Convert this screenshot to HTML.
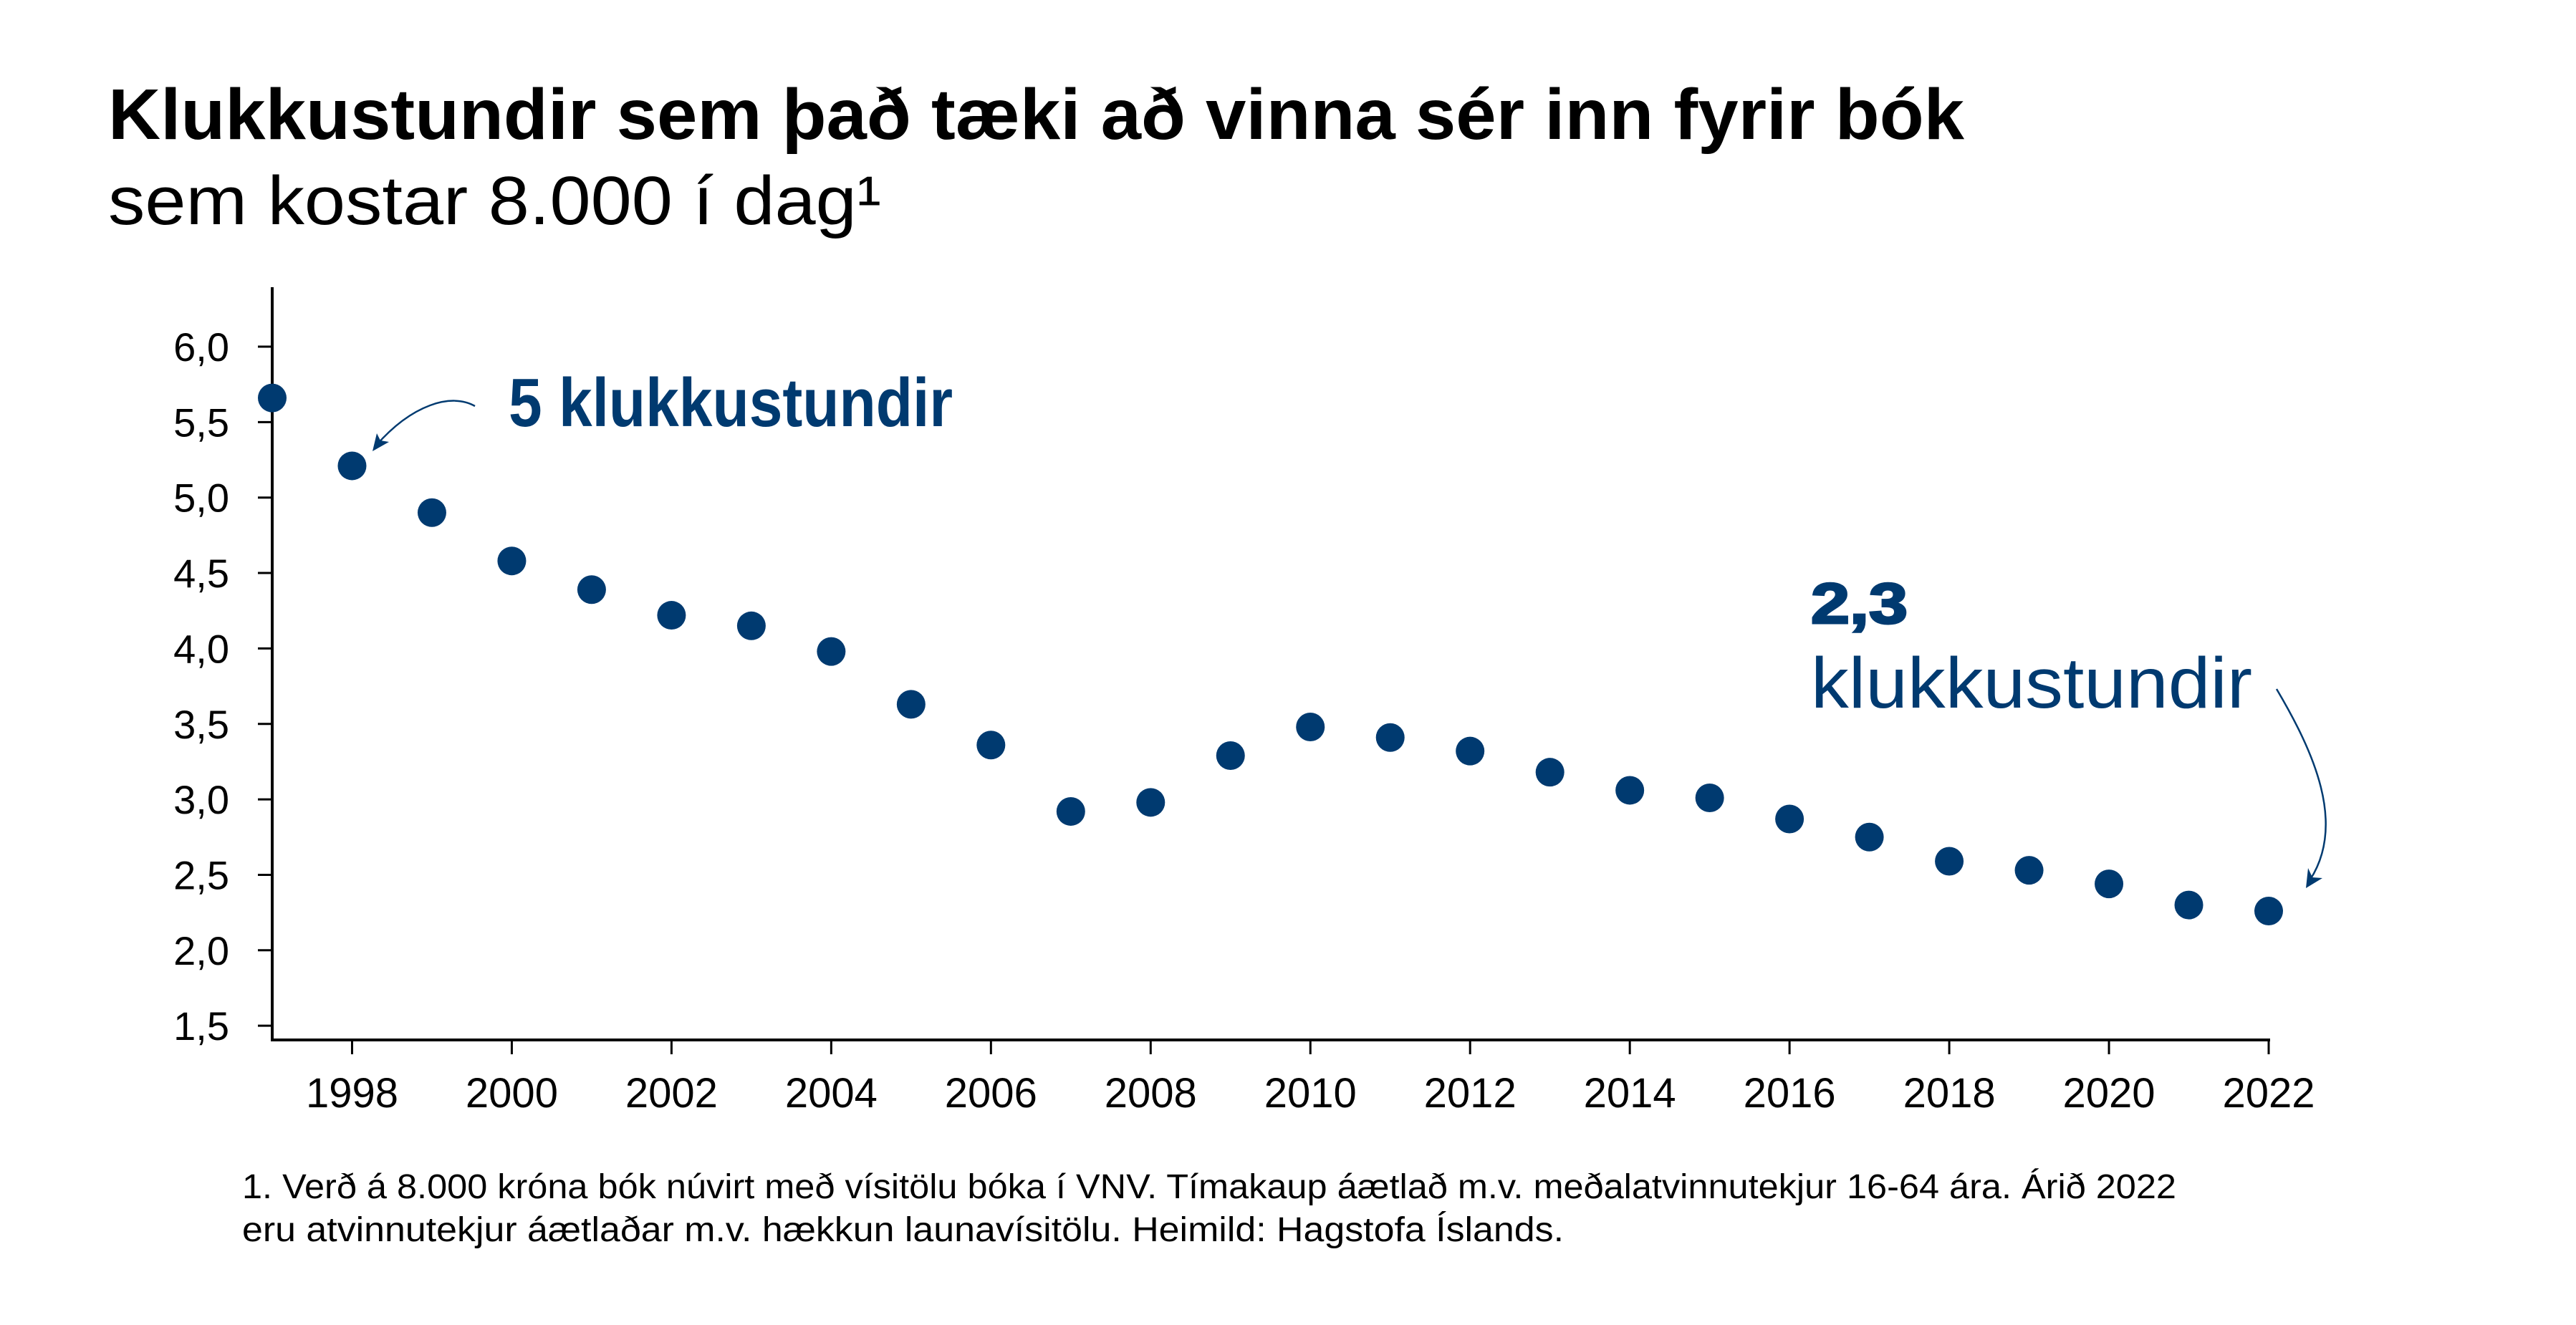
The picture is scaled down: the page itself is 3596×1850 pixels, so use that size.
<!DOCTYPE html>
<html><head><meta charset="utf-8"><style>
html,body{margin:0;padding:0;background:#fff;}
svg{display:block;font-family:"Liberation Sans",sans-serif;}
</style></head><body>
<svg id="chart" width="3596" height="1850" viewBox="0 0 3596 1850" xmlns="http://www.w3.org/2000/svg">
<rect width="3596" height="1850" fill="#fff"/>
<text x="151" y="194" font-size="100" font-weight="bold" fill="#000" textLength="2591" lengthAdjust="spacingAndGlyphs">Klukkustundir sem það tæki að vinna sér inn fyrir bók</text>
<text x="151" y="313" font-size="96" fill="#000" textLength="1079" lengthAdjust="spacingAndGlyphs">sem kostar 8.000 í dag¹</text>
<g id="axes"></g>
<g id="dots"></g>
<g>
<path d="M663,567 C630,548 575,565 525,622" fill="none" stroke="#003a70" stroke-width="2.5"/>
<path d="M520,630 L526,605 L531,615 L543,617 Z" fill="#003a70"/>
<text x="710" y="595" font-size="96" font-weight="bold" fill="#003a70" textLength="620" lengthAdjust="spacingAndGlyphs"><tspan font-weight="900">5</tspan> klukkustundir</text>
</g>
<g>
<text x="2528" y="870" font-size="80" font-weight="900" fill="#003a70" textLength="135" lengthAdjust="spacingAndGlyphs" stroke="#003a70" stroke-width="3">2,3</text>
<text x="2528" y="988" font-size="100" fill="#003a70" textLength="616" lengthAdjust="spacingAndGlyphs">klukkustundir</text>
<path d="M3178,962 C3230,1050 3275,1150 3225,1228" fill="none" stroke="#003a70" stroke-width="2.5"/>
<path d="M3219,1240 L3222,1212 L3228,1225 L3242,1226 Z" fill="#003a70"/>
</g>
<text x="338" y="1673" font-size="48" fill="#000" textLength="2700" lengthAdjust="spacingAndGlyphs">1. Verð á 8.000 króna bók núvirt með vísitölu bóka í VNV. Tímakaup áætlað m.v. meðalatvinnutekjur 16-64 ára. Árið 2022</text>
<text x="338" y="1733" font-size="48" fill="#000" textLength="1845" lengthAdjust="spacingAndGlyphs">eru atvinnutekjur áætlaðar m.v. hækkun launavísitölu. Heimild: Hagstofa Íslands.</text>
</svg>
<script>
const years = [1997,1998,1999,2000,2001,2002,2003,2004,2005,2006,2007,2008,2009,2010,2011,2012,2013,2014,2015,2016,2017,2018,2019,2020,2021,2022];
const hours = [5.66,5.21,4.90,4.58,4.39,4.22,4.15,3.98,3.63,3.36,2.92,2.98,3.29,3.48,3.41,3.32,3.18,3.06,3.01,2.87,2.75,2.59,2.53,2.44,2.30,2.26];
const yTicks = [1.5,2.0,2.5,3.0,3.5,4.0,4.5,5.0,5.5,6.0];
const yTickLabels = ["1,5","2,0","2,5","3,0","3,5","4,0","4,5","5,0","5,5","6,0"];
const xTicks = [1998,2000,2002,2004,2006,2008,2010,2012,2014,2016,2018,2020,2022];

const NS = "http://www.w3.org/2000/svg";
const X0 = 380, XPER = 111.48, Y6 = 484, YPER = 210.7;
function xs(yr){ return X0 + (yr - 1997) * XPER; }
function ys(v){ return Y6 + (6 - v) * YPER; }
function mk(tag, attrs, parent){ const e = document.createElementNS(NS, tag); for (const k in attrs) e.setAttribute(k, attrs[k]); parent.appendChild(e); return e; }

const axes = document.getElementById('axes');
const dots = document.getElementById('dots');
const baseY = 1452;

let yl = mk('line', {x1:X0, y1:401, x2:X0, y2:baseY+1.5, stroke:'#000', 'stroke-width':4}, axes);


let xl = mk('line', {x1:X0-2, y1:baseY, x2:xs(2022)+2, y2:baseY, stroke:'#000', 'stroke-width':4}, axes);



yTicks.forEach((t, i) => {
  const y = ys(t);
  const tk = mk('line', {x1:X0-20, y1:y, x2:X0, y2:y, stroke:'#000', 'stroke-width':3}, axes);
  
  
  const tx = mk('text', {x:320, y:y+20, 'font-size':56, 'text-anchor':'end', fill:'#000'}, axes);
  
  
  tx.textContent = yTickLabels[i];
});

xTicks.forEach(t => {
  const x = xs(t);
  const tk = mk('line', {x1:x, y1:baseY, x2:x, y2:baseY+20, stroke:'#000', 'stroke-width':3}, axes);
  
  
  const tx = mk('text', {x:x, y:1546, 'font-size':58, 'text-anchor':'middle', fill:'#000'}, axes);
  
  
  tx.textContent = String(t);
});

years.forEach((yr, i) => {
  const c = mk('circle', {cx:xs(yr), cy:ys(hours[i]), r:20, fill:'#003a70'}, dots);
  
  
});
</script>
</body></html>
